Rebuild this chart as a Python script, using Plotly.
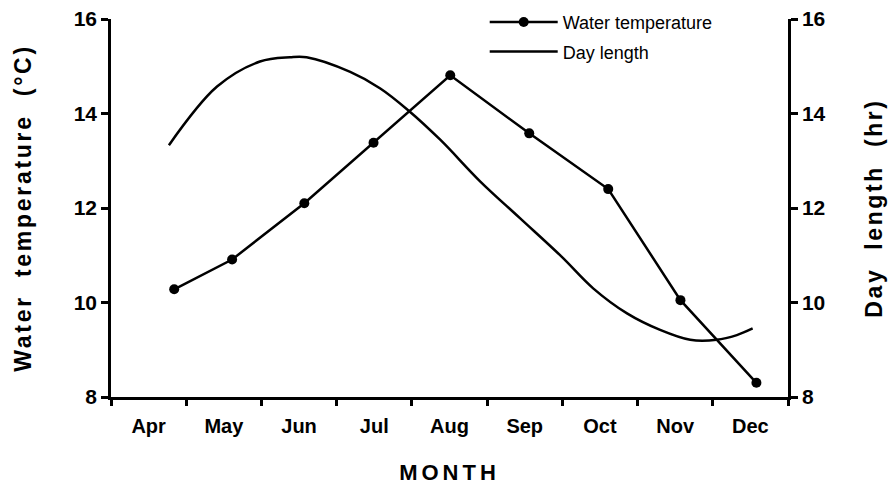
import plotly.graph_objects as go

months = ["Apr", "May", "Jun", "Jul", "Aug", "Sep", "Oct", "Nov", "Dec"]
month_pos = [0.5, 1.5, 2.5, 3.5, 4.5, 5.5, 6.5, 7.5, 8.5]
month_bounds = [0, 1, 2, 3, 4, 5, 6, 7, 8, 9]

temp_x = [0.84, 1.61, 2.57, 3.49, 4.51, 5.56, 6.61, 7.57, 8.58]
temp = [10.28, 10.91, 12.10, 13.38, 14.81, 13.58, 12.40, 10.05, 8.30]

day_x = [0.77, 1.41, 1.98, 2.38, 2.60, 3.18, 3.58, 3.95, 4.38, 4.91, 5.44,
         5.99, 6.41, 6.86, 7.30, 7.70, 8.05, 8.32, 8.53]
day = [13.33, 14.57, 15.10, 15.19, 15.19, 14.88, 14.53, 14.07, 13.44, 12.56, 11.78,
       10.97, 10.30, 9.77, 9.42, 9.21, 9.21, 9.31, 9.45]

y_ticks = [8, 10, 12, 14, 16]

FONT = "Liberation Sans, Arial, sans-serif"

fig = go.Figure()
fig.add_trace(go.Scatter(
    x=temp_x, y=temp, name="Water temperature", mode="lines+markers",
    line=dict(color="black", width=2.5),
    marker=dict(color="black", size=10, symbol="circle"),
    legendgroup="a",
))
fig.add_trace(go.Scatter(
    x=day_x, y=day, name="Day length", mode="lines", yaxis="y2",
    line=dict(color="black", width=2.5, shape="spline", smoothing=1.0),
    legendgroup="b",
))

axis_common = dict(
    showline=True, linecolor="black", linewidth=2.5, showgrid=False, zeroline=False,
    ticks="outside", ticklen=7, tickwidth=2.5, tickcolor="black", automargin=False,
    tickfont=dict(family=FONT, size=21, color="black", weight="bold"),
)

fig.update_layout(
    width=892, height=485,
    margin=dict(l=111, r=104, t=19, b=88, autoexpand=False),
    paper_bgcolor="white", plot_bgcolor="white",
    font=dict(family=FONT, color="black"),
    showlegend=True,
    legend=dict(
        x=0.552, y=1.040, xanchor="left", yanchor="top",
        bgcolor="rgba(0,0,0,0)", borderwidth=0,
        font=dict(family=FONT, size=18, color="black"),
        itemwidth=68, tracegroupgap=3, traceorder="grouped",
    ),
    xaxis=dict(
        range=[0, 9], showline=True, linecolor="black", linewidth=2.5,
        showgrid=False, zeroline=False, automargin=False,
        tickmode="array", tickvals=month_pos, ticktext=months, ticks="",
        ticklabelstandoff=9,
        tickfont=dict(family=FONT, size=20, color="black", weight="bold"),
        minor=dict(tickmode="array", tickvals=month_bounds, ticks="outside",
                   ticklen=6, tickwidth=2.5, tickcolor="black", showgrid=False),
        title=dict(text="MONTH", standoff=45,
                   font=dict(family=FONT, size=22, color="black", weight="bold")),
    ),
    yaxis=dict(
        range=[8, 16], tickmode="array", tickvals=y_ticks, side="left",
        title=dict(text="Water\u00a0\u00a0temperature\u00a0\u00a0(°C)", standoff=36,
                   font=dict(family=FONT, size=23, color="black", weight="bold")),
        **axis_common,
    ),
    yaxis2=dict(
        range=[8, 16], tickmode="array", tickvals=y_ticks, side="right",
        overlaying="y", anchor="x",
        title=dict(text="Day\u00a0\u00a0length\u00a0\u00a0(hr)", standoff=42,
                   font=dict(family=FONT, size=23, color="black", weight="bold")),
        **axis_common,
    ),
)

post = """
document.body.style.margin = '0';
[['.xtitle','4px'],['.ytitle','2.7px'],['.y2title','2.6px']].forEach(function(p){
  document.querySelectorAll(p[0]).forEach(function(e){ e.style.letterSpacing = p[1]; });
});
"""
fig.write_html("out.html", post_script=post, config={"displayModeBar": False})
